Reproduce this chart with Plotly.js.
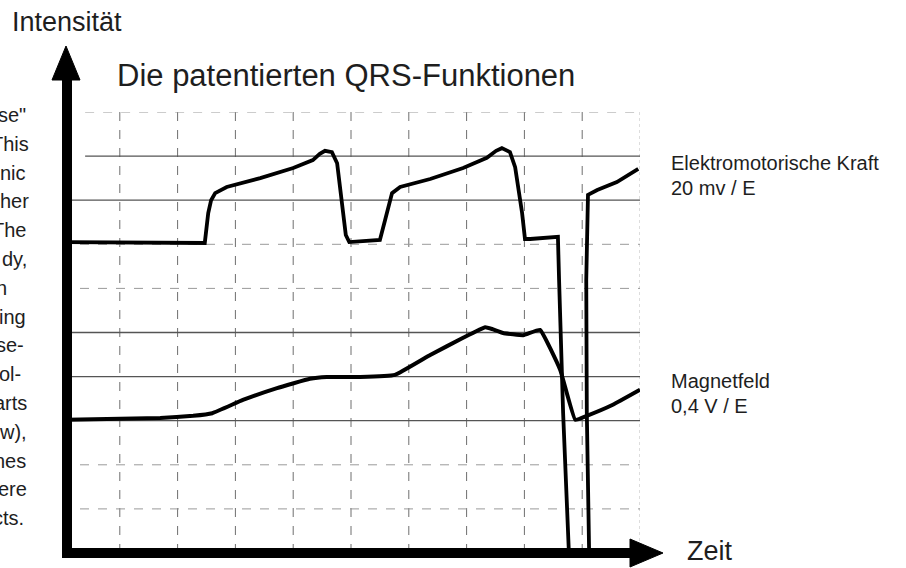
<!DOCTYPE html>
<html><head><meta charset="utf-8">
<script src="https://cdn.plot.ly/plotly-3.0.1.min.js"></script>
<style>html,body{margin:0;padding:0;background:#fff;}#chart{width:906px;height:568px;}</style>
</head><body><div id="chart"></div>
<script>
// Elektromotorische Kraft (grid units)
const emfX = [0.09,2.47,2.53,2.58,2.65,2.85,3.43,4.00,4.34,4.46,4.55,4.67,4.76,4.86,4.91,4.97,5.50,5.59,5.71,5.85,6.37,6.94,7.35,7.51,7.61,7.75,7.84,7.96,8.01,8.10,8.58,8.60,8.67,8.77,9.12,9.08,9.07,9.10,9.26,9.60,9.97];
const emfY = [7.05,7.03,7.71,8.00,8.16,8.30,8.50,8.73,8.91,9.05,9.12,9.09,8.84,7.71,7.21,7.05,7.10,7.55,8.16,8.30,8.48,8.73,8.96,9.12,9.18,9.09,8.75,7.71,7.12,7.12,7.17,6.19,3.17,0.0,0.0,3.17,6.19,8.12,8.23,8.41,8.71];
// Magnetfeld (grid units)
const magX = [0.09,1.70,2.27,2.60,3.13,3.72,4.29,4.58,5.16,5.76,6.37,6.94,7.32,7.44,7.63,7.98,8.27,8.62,8.88,9.08,9.53,10.0];
const magY = [3.02,3.06,3.11,3.17,3.47,3.74,3.95,3.99,3.99,4.04,4.49,4.88,5.12,5.08,4.99,4.94,5.06,4.15,3.02,3.11,3.36,3.70];
// grid lines
const gridXs = [1,2,3,4,5,6,7,8,9];
const gridYs = [1,2,3,4,5,6,7,8,9,10];
const solidYs = [3,4,5,8,9];
// labels
const titleText = 'Die patentierten QRS-Funktionen';
const yLabel = 'Intensität';
const xLabel = 'Zeit';
const emfLabel = ['Elektromotorische Kraft', '20 mv / E'];
const magLabel = ['Magnetfeld', '0,4 V / E'];
const sideText = ['se"','This','nic','her','The','dy,','n','ing','se-','ol-','arts','w),','nes','ere','cts.'];
const sideRight = [27,30,27,30,27,28,8,27,25,22,28,28,27,28,25];

const L = 62, R = 640, T = 112, B = 553;
const px = v => (v - L) / (R - L);
const py = v => (B - v) / (B - T);
const FONT = 'Liberation Sans, Arial, sans-serif';

const shapes = [];
gridXs.forEach(x => shapes.push({type:'line', xref:'x', yref:'y', x0:x, x1:x, y0:0, y1:10, layer:'below',
  line:{color:'#6e6e6e', width:1, dash:'dash'}}));
shapes.push({type:'line', xref:'x', yref:'y', x0:10, x1:10, y0:0, y1:10, layer:'below', line:{color:'#bbb', width:1, dash:'dot'}});
gridYs.forEach(y => {
  const solid = solidYs.includes(y);
  const x0 = (y >= 9) ? 0.4 : 0;
  shapes.push({type:'line', xref:'x', yref:'y', x0:x0, x1:10, y0:y, y1:y, layer:'below',
    line:{color: solid ? '#555' : '#9a9a9a', width: solid ? 1.3 : 1, dash: solid ? 'solid' : 'dash'}});
});
// axes with arrows
shapes.push({type:'line', xref:'paper', yref:'paper', x0:px(67), x1:px(67), y0:py(558), y1:py(78), line:{color:'#000', width:10}});
shapes.push({type:'line', xref:'paper', yref:'paper', x0:px(62), x1:px(632), y0:py(553), y1:py(553), line:{color:'#000', width:10}});
shapes.push({type:'path', xref:'paper', yref:'paper', fillcolor:'#000', line:{color:'#000', width:1},
  path:`M ${px(66)},${py(46)} L ${px(52)},${py(80)} L ${px(80)},${py(80)} Z`});
shapes.push({type:'path', xref:'paper', yref:'paper', fillcolor:'#000', line:{color:'#000', width:1},
  path:`M ${px(663)},${py(553)} L ${px(630)},${py(539)} L ${px(630)},${py(567)} Z`});

const ann = [];
const addText = (text, x, y, size, xanchor) => ann.push({text, xref:'paper', yref:'paper', x:px(x), y:py(y),
  xanchor: xanchor || 'left', yanchor:'middle', showarrow:false, font:{family:FONT, size, color:'#1e1e1e'}});
addText(titleText, 115, 75, 31);
addText(yLabel, 10, 22, 27);
addText(xLabel, 685, 551, 27);
addText(emfLabel[0], 669, 163, 20);
addText(emfLabel[1], 669, 188, 20);
addText(magLabel[0], 669, 381, 20);
addText(magLabel[1], 669, 406, 20);
sideText.forEach((t, i) => addText(t, sideRight[i] + 1, 115 + 28.8 * i, 20, 'right'));

const data = [
  {x: emfX, y: emfY, type:'scatter', mode:'lines', line:{color:'#000', width:3.8, shape:'linear'}, hoverinfo:'skip'},
  {x: magX, y: magY, type:'scatter', mode:'lines', line:{color:'#000', width:4, shape:'spline', smoothing:0.3}, hoverinfo:'skip'}
];
const layout = {
  width:906, height:568, margin:{l:L, r:906-R, t:T, b:568-B, pad:0},
  paper_bgcolor:'#fff', plot_bgcolor:'#fff', showlegend:false,
  xaxis:{range:[0,10], showgrid:false, zeroline:false, showticklabels:false, showline:false, ticks:'', fixedrange:true},
  yaxis:{range:[0,10], showgrid:false, zeroline:false, showticklabels:false, showline:false, ticks:'', fixedrange:true},
  shapes, annotations: ann
};
Plotly.newPlot('chart', data, layout, {displayModeBar:false, staticPlot:true});
</script></body></html>
